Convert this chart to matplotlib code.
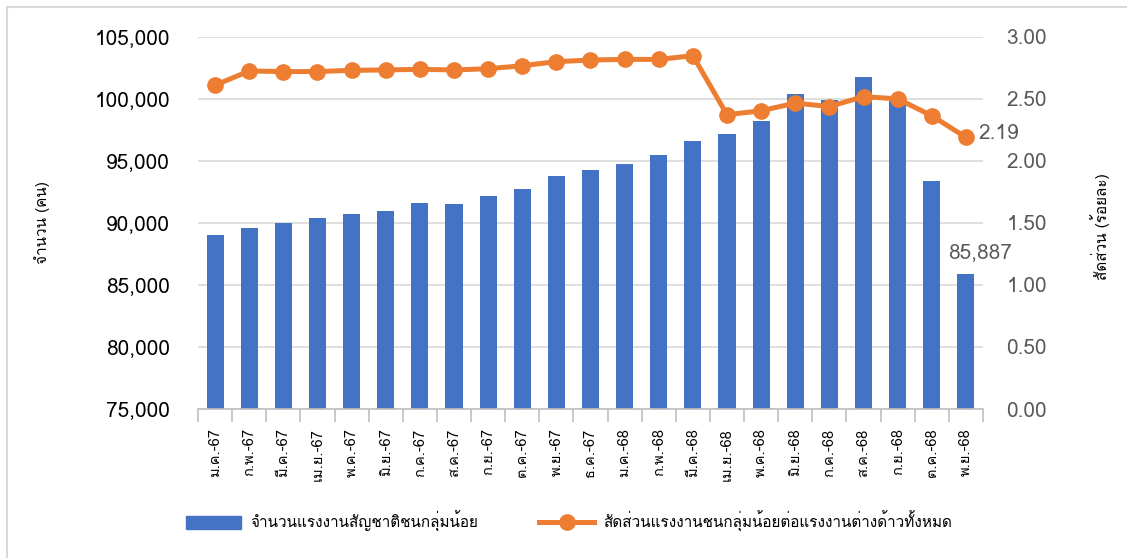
import numpy as np
import matplotlib
matplotlib.use("Agg")
import matplotlib.pyplot as plt
from matplotlib import font_manager
from matplotlib.patches import Rectangle
from matplotlib.ticker import FuncFormatter, MultipleLocator

months = ["ม.ค.-67", "ก.พ.-67", "มี.ค.-67", "เม.ย.-67", "พ.ค.-67", "มิ.ย.-67",
          "ก.ค.-67", "ส.ค.-67", "ก.ย.-67", "ต.ค.-67", "พ.ย.-67", "ธ.ค.-67",
          "ม.ค.-68", "ก.พ.-68", "มี.ค.-68", "เม.ย.-68", "พ.ค.-68", "มิ.ย.-68",
          "ก.ค.-68", "ส.ค.-68", "ก.ย.-68", "ต.ค.-68", "พ.ย.-68"]

workers = [89010, 89600, 90030, 90400, 90680, 91000, 91590, 91510, 92210,
           92740, 93790, 94300, 94710, 95480, 96590, 97180, 98200, 100380,
           99900, 101730, 100100, 93360, 85887]

share = [2.61, 2.725, 2.72, 2.72, 2.73, 2.733, 2.738, 2.733, 2.743, 2.767,
         2.80, 2.813, 2.818, 2.818, 2.848, 2.372, 2.404, 2.466, 2.438, 2.518,
         2.50, 2.364, 2.19]

bar_name = "จำนวนแรงงานสัญชาติชนกลุ่มน้อย"
line_name = "สัดส่วนแรงงานชนกลุ่มน้อยต่อแรงงานต่างด้าวทั้งหมด"

BLUE = "#4472C4"
ORANGE = "#ED7D31"
GRID = "#D9D9D9"
TXT = "#595959"


def find_thai_font():
    # look for any installed face that has thai glyphs
    try:
        from fontTools.ttLib import TTFont
    except ImportError:
        return None
    for f in font_manager.fontManager.ttflist:
        try:
            tt = TTFont(f.fname, fontNumber=0, lazy=True)
            cmap = tt.getBestCmap()
            if cmap and 0x0E08 in cmap and 0x0E33 in cmap:
                return f.name
        except Exception:
            continue
    return None


thai = find_thai_font()
fams = ["DejaVu Sans"]
if thai:
    fams = [thai, "DejaVu Sans"]
plt.rcParams["font.family"] = fams

fig = plt.figure(figsize=(11.27, 5.58), dpi=100)
fig.patches.append(Rectangle((7 / 1127, -0.1), 1.2, 1.1 - 7 / 558,
                             transform=fig.transFigure, fill=False,
                             edgecolor="#D9D9D9", lw=1.5))

ax = fig.add_axes([0.1757, 0.267, 0.6965, 0.667])
x = np.arange(len(months))
ax.bar(x, workers, width=0.5, color=BLUE, zorder=2)
ax.set_ylim(75000, 105000)
ax.set_xlim(-0.5, len(months) - 0.5)
ax.yaxis.set_major_locator(MultipleLocator(5000))
ax.yaxis.set_major_formatter(FuncFormatter(lambda v, p: f"{v:,.0f}"))
ax.grid(axis="y", color=GRID, lw=1.2, zorder=0)
ax.set_axisbelow(True)
for s in ["top", "right", "left"]:
    ax.spines[s].set_visible(False)
ax.spines["bottom"].set_color("#BFBFBF")
ax.spines["bottom"].set_linewidth(1.2)
ax.tick_params(axis="y", length=0, labelsize=15, labelcolor="#000000", pad=20)
ax.set_xticks(x)
ax.set_xticklabels(months, rotation=90, fontsize=10.5, color="#000000")
ax.set_xticks(np.arange(len(months) + 1) - 0.5, minor=True)
ax.tick_params(axis="x", which="major", length=0, pad=14)
ax.tick_params(axis="x", which="minor", length=9, color="#BFBFBF", width=1.2)
ax.set_ylabel("จำนวน (คน)", fontsize=11, rotation=90, va="center")
ax.yaxis.set_label_coords(-0.199, 0.5)

ax2 = ax.twinx()
ax2.plot(x, share, color=ORANGE, lw=3.6, marker="o", markersize=11, zorder=3)
ax2.set_ylim(0, 3)
ax2.yaxis.set_major_locator(MultipleLocator(0.5))
ax2.yaxis.set_major_formatter(FuncFormatter(lambda v, p: f"{v:.2f}"))
for s in ["top", "right", "left", "bottom"]:
    ax2.spines[s].set_visible(False)
ax2.tick_params(axis="y", length=0, labelsize=15, labelcolor=TXT, pad=17)
ax2.set_ylabel("สัดส่วน (ร้อยละ)", fontsize=11, rotation=90, va="center")
ax2.yaxis.set_label_coords(1.149, 0.49)

ax.annotate(f"{workers[-1]:,}", (x[-1], workers[-1]), xytext=(14, 12),
            textcoords="offset pixels", ha="center", va="bottom", fontsize=15,
            color=TXT)
ax2.annotate(f"{share[-1]:.2f}", (x[-1], share[-1]), xytext=(12, 4),
             textcoords="offset pixels", ha="left", va="center", fontsize=15,
             color=TXT)

h1 = Rectangle((0, 0), 1, 1, color=BLUE)
h2 = plt.Line2D([], [], color=ORANGE, lw=3.6, marker="o", markersize=11)
fig.legend([h1, h2], [bar_name, line_name], loc="center", ncol=2,
           bbox_to_anchor=(0.505, 0.066), frameon=False, fontsize=11,
           handlelength=3.6, handleheight=0.9, columnspacing=4.0,
           handletextpad=0.6)

fig.savefig("out.png", dpi=100)
